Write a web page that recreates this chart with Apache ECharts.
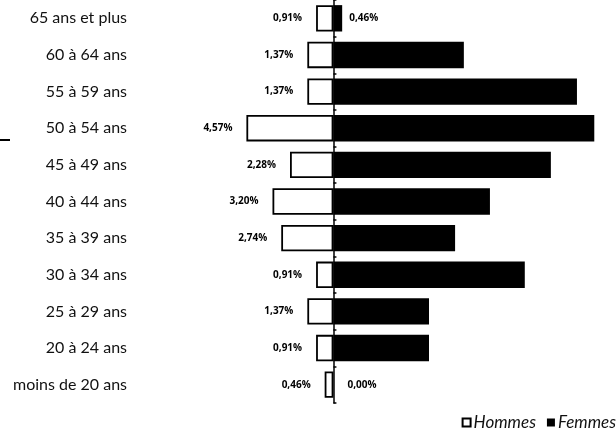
<!DOCTYPE html>
<html>
<head>
<meta charset="utf-8">
<script src="https://cdn.jsdelivr.net/npm/echarts@6/dist/echarts.min.js"></script>
<style>
  html, body { margin: 0; padding: 0; background: #fff; overflow: hidden; }
  #chart { width: 616px; height: 428px; }
</style>
</head>
<body>
<div id="chart"></div>
<script>
// Age groups, top to bottom
const categories = [
  '65 ans et plus', '60 à 64 ans', '55 à 59 ans', '50 à 54 ans', '45 à 49 ans',
  '40 à 44 ans', '35 à 39 ans', '30 à 34 ans', '25 à 29 ans', '20 à 24 ans', 'moins de 20 ans'
];
// Share of total staff, in %
const hommes = [0.91, 1.37, 1.37, 4.57, 2.28, 3.20, 2.74, 0.91, 1.37, 0.91, 0.46];
const femmes = [0.46, 6.85, 12.79, 13.70, 11.42, 8.22, 6.39, 10.05, 5.02, 5.02, 0.00];
// Women's values printed next to their bar
const femmesLabelled = ['65 ans et plus', 'moins de 20 ans'];

const fmt = v => Math.abs(v).toFixed(2).replace('.', ',') + '%';
const FONT = 'Lato';
const VFONT = 'Open Sans';

const chart = echarts.init(document.getElementById('chart'), null, { renderer: 'canvas' });

chart.setOption({
  animation: false,
  backgroundColor: '#ffffff',
  textStyle: { fontFamily: FONT },
  grid: { left: 143, right: 16, top: 0, bottom: 25, containLabel: false },
  legend: {
    right: -5,
    top: 409,
    itemWidth: 8,
    itemHeight: 8,
    itemGap: 11,
    icon: 'rect',
    textStyle: { fontFamily: FONT, fontStyle: 'italic', fontSize: 17, color: '#111', padding: [0, 0, 0, -2] },
    data: ['Hommes', 'Femmes']
  },
  xAxis: {
    type: 'value',
    min: -10,
    max: 14,
    axisLine: { show: false },
    axisTick: { show: false },
    axisLabel: { show: false },
    splitLine: { show: false }
  },
  yAxis: [
    {
      type: 'category',
      data: categories,
      inverse: true,
      axisLine: { show: false, onZero: false },
      axisTick: { show: false },
      axisLabel: { fontFamily: FONT, fontSize: 16, color: '#111', margin: 16 }
    },
    {
      type: 'category',
      data: categories,
      inverse: true,
      axisLine: { show: true, onZero: true, lineStyle: { color: '#000', width: 1.5 } },
      axisTick: { show: true, length: 3, lineStyle: { color: '#000', width: 1.5 } },
      axisLabel: { show: false }
    }
  ],
  series: [
    {
      name: 'Hommes',
      type: 'bar',
      yAxisIndex: 0,
      barCategoryGap: '28%',
      barGap: '-100%',
      data: hommes.map(v => -v),
      itemStyle: { color: '#ffffff', borderColor: '#000', borderWidth: 1.8 },
      label: {
        show: true,
        position: 'left',
        distance: 14,
        formatter: p => fmt(p.value),
        fontFamily: VFONT,
        fontWeight: 'bold',
        fontSize: 10,
        color: '#000'
      }
    },
    {
      name: 'Femmes',
      type: 'bar',
      yAxisIndex: 0,
      barCategoryGap: '28%',
      barGap: '-100%',
      data: femmes.map((v, i) => ({
        value: v,
        label: {
          show: femmesLabelled.includes(categories[i]),
          distance: v > 0 ? 7 : 14
        }
      })),
      itemStyle: { color: '#000' },
      label: {
        position: 'right',
        formatter: p => fmt(p.value),
        fontFamily: VFONT,
        fontWeight: 'bold',
        fontSize: 10,
        color: '#000'
      }
    }
  ],
  graphic: [
    { type: 'rect', shape: { x: 0, y: 139, width: 10, height: 2 }, style: { fill: '#000' } }
  ]
});
</script>
</body>
</html>
